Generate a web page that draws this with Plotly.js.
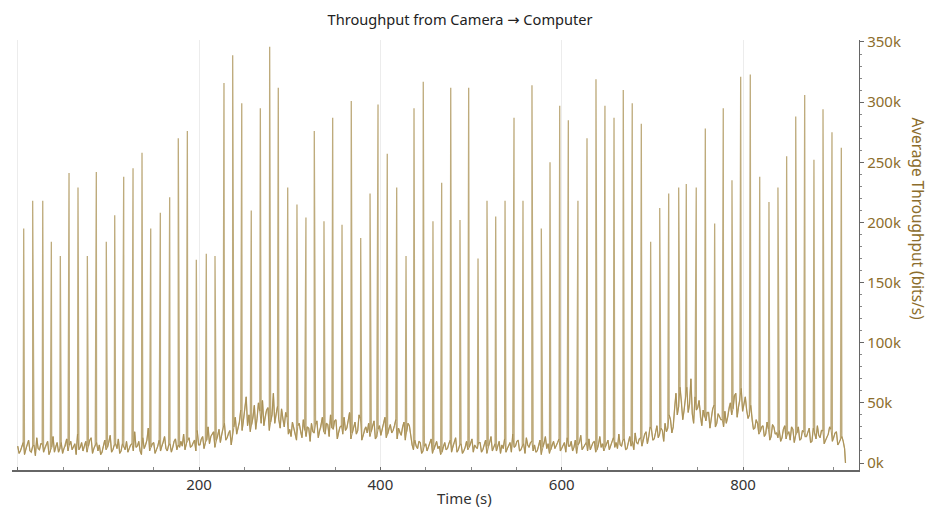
<!DOCTYPE html>
<html>
<head>
<meta charset="utf-8">
<script src="https://cdn.plot.ly/plotly-3.0.1.min.js"></script>
<style>html,body{margin:0;padding:0;background:#fff;}#chart{width:937px;height:513px;}</style>
</head>
<body>
<div id="chart"></div>
<script>
// Spike times (s) and peak throughput (k bits/s)
var spikeTimes = [6.6,16.5,27.6,37.1,47.0,56.6,66.5,76.8,86.7,97.7,107.0,116.9,127.2,137.1,146.7,157.3,167.6,177.1,187.1,197.0,
  208.0,217.6,227.5,237.1,247.1,257.6,267.6,277.9,287.4,297.8,308.0,317.9,327.1,337.8,347.4,357.7,367.9,378.3,388.6,397.4,
  407.6,418.0,428.3,437.1,447.3,458.0,467.6,477.6,487.8,497.4,507.7,517.6,527.2,537.5,547.4,557.3,567.2,577.5,587.1,597.8,
  607.3,617.9,627.9,637.8,647.7,657.7,667.9,677.8,687.8,698.1,708.1,718.0,729.0,737.4,748.4,758.4,768.7,778.2,787.8,797.4,
  808.0,818.4,828.6,838.5,848.1,858.1,868.0,878.2,888.2,898.1,908.4];
var spikePeaks = [195,218,218,184,172,241,229,172,242,184,206,238,245,258,195,208,221,270,276,169,
  174,172,316,339,299,210,295,346,312,229,215,204,276,201,287,198,301,187,224,298,
  257,229,172,295,317,201,233,312,202,312,170,218,205,218,287,218,314,195,250,297,
  285,218,270,319,297,287,310,299,282,184,212,224,229,232,229,278,199,295,235,321,
  323,238,217,229,255,288,306,252,294,275,262];
// Baseline throughput (k bits/s) every 3 s from 0 s to 912 s
var baseStart = 0, baseStep = 3;
var baseline = [
 14,10,17,12,19,9,15,21,11,16,
 13,18,10,22,14,9,17,12,20,15,
 11,16,24,13,10,18,14,21,12,17,
 15,9,19,13,23,11,16,20,10,14,
 18,12,16,26,14,10,21,15,29,13,
 17,11,19,14,22,10,16,13,20,15,
 18,24,16,21,14,19,27,15,22,17,
 30,22,26,19,28,24,33,21,27,25,
 38,29,44,35,55,40,32,48,37,43,
 52,39,46,34,58,41,36,45,30,38,
 28,34,24,31,26,36,22,29,33,25,
 35,27,38,24,32,40,28,36,26,31,
 38,29,42,25,34,27,37,23,30,33,
 26,35,22,31,28,38,24,32,27,36,
 29,23,34,26,31,15,19,12,17,10,
 16,13,20,11,18,14,9,17,12,19,
 14,21,11,16,10,18,13,20,15,12,
 17,11,19,14,22,13,10,18,15,20,
 12,17,24,14,19,11,16,21,13,18,
 15,10,19,13,22,16,11,18,14,20,
 12,17,21,14,10,19,15,23,13,17,
 20,14,18,11,22,16,13,19,15,21,
 17,24,14,20,12,22,18,25,16,21,
 19,26,22,28,20,31,24,27,33,29,
 36,30,58,47,52,44,63,49,41,55,
 46,38,44,35,42,37,48,33,39,36,
 43,38,50,45,58,47,62,51,44,40,
 35,29,33,26,31,24,28,22,30,25,
 27,21,31,24,19,28,23,30,20,26,
 22,29,18,25,31,21,27,19,24,28,
 21,26,17,22,12];
// In-between baseline samples (k bits/s) every 3 s from 1.5 s to 910.5 s
var midStart = 1.5, midStep = 3;
var baselineMid = [
 8,13,7,15,10,14,6,12,16,9,
 15,7,13,9,17,12,8,14,10,18,
 13,7,11,17,14,9,19,8,15,10,
 7,14,11,17,9,15,12,8,16,11,
 9,15,10,13,18,7,12,19,10,16,
 8,14,10,17,12,15,9,18,11,13,
 14,11,19,13,17,10,15,20,12,19,
 16,24,13,22,17,29,19,25,15,30,
 24,34,27,45,31,26,38,28,50,33,
 31,44,27,40,33,47,29,36,42,24,
 22,29,19,33,21,27,30,18,26,32,
 21,30,26,33,22,29,35,20,30,24,
 27,35,20,31,24,40,19,28,25,22,
 31,20,28,23,34,21,29,25,31,20,
 25,30,19,33,22,11,14,18,8,14,
 10,17,8,15,12,7,14,11,16,9,
 17,9,15,8,13,11,16,9,13,17,
 9,15,8,17,10,16,14,8,12,9,
 15,9,13,18,10,14,8,15,17,10,
 9,14,7,16,12,8,15,12,17,10,
 15,9,14,18,13,8,17,11,16,10,
 11,17,9,15,13,10,16,11,18,13,
 12,15,19,11,17,14,11,17,20,14,
 24,16,30,19,25,21,29,18,26,40,
 25,45,40,63,36,55,42,70,33,44,
 52,31,38,42,29,45,30,41,36,30,
 33,46,40,56,38,52,43,55,37,48,
 28,36,24,30,22,34,19,32,24,21,
 18,28,20,26,30,17,25,19,27,22,
 26,17,29,20,23,27,16,22,30,18,
 25,15,20,18];
var endTime = 913, endValue = 0;

var xTickVals = [0,200,400,600,800];
var xTickText = ['','200','400','600','800'];

// Build series
var base = [];
for (var i = 0; i < baseline.length; i++) base.push([baseStart + i * baseStep, baseline[i]]);
for (var m = 0; m < baselineMid.length; m++) base.push([midStart + m * midStep, baselineMid[m]]);
base.push([endTime, endValue]);
var all = base.slice();
for (var j = 0; j < spikeTimes.length; j++) all.push([spikeTimes[j], spikePeaks[j]]);
function byT(a,b){return a[0]-b[0];}
base.sort(byT); all.sort(byT);
var bx = base.map(function(p){return p[0];}), by = base.map(function(p){return p[1];});
var sx = all.map(function(p){return p[0];}), sy = all.map(function(p){return p[1];});

var gold = '#8c6d2c';
var traces = [
  {x: sx, y: sy, type: 'scatter', mode: 'lines', yaxis: 'y2',
   line: {color: 'rgb(190,171,124)', width: 1.3}, hoverinfo: 'skip', showlegend: false},
  {x: bx, y: by, type: 'scatter', mode: 'lines', yaxis: 'y2',
   line: {color: 'rgb(168,142,82)', width: 0.9}, hoverinfo: 'skip', showlegend: false}
];

var font = 'Noto Sans, Open Sans, sans-serif';
var layout = {
  width: 937, height: 513,
  margin: {l: 12, r: 78, t: 40, b: 43, pad: 0},
  paper_bgcolor: '#fff', plot_bgcolor: '#fff',
  font: {family: font, size: 14, color: '#333'},
  showlegend: false,
  title: {text: 'Throughput from Camera <span style="font-family:DejaVu Sans">\u2192</span> Computer',
          font: {family: font, size: 14.6, color: '#222'},
          xref: 'container', x: 0.491, yref: 'container', y: 0.961, xanchor: 'center', yanchor: 'middle'},
  xaxis: {range: [-6.3, 927.9], tickvals: xTickVals, ticktext: xTickText,
          showgrid: true, gridcolor: '#ececec', gridwidth: 1, zeroline: false,
          showline: true, linecolor: '#666', linewidth: 1.5,
          ticks: 'inside', ticklen: 3, tickcolor: '#666',
          minor: {dtick: 50, tick0: 0, ticks: 'inside', ticklen: 3, tickcolor: '#888', showgrid: false},
          tickfont: {family: font, size: 15, color: '#333'}},
  yaxis: {range: [-0.0928, 5.61], dtick: 1, tick0: 0, showticklabels: false,
          showgrid: true, gridcolor: '#ececec', zeroline: false,
          showline: true, linecolor: '#555', linewidth: 1.5,
          ticks: 'outside', ticklen: 4, tickcolor: '#555',
          minor: {dtick: 0.2, ticks: 'outside', ticklen: 2, tickcolor: '#777', showgrid: false}},
  yaxis2: {overlaying: 'y', side: 'right', range: [-5.82, 351.65], dtick: 50, tick0: 0, ticksuffix: 'k',
           showgrid: false, zeroline: false, showline: true, linecolor: '#666', linewidth: 1.2,
           ticks: 'outside', ticklen: 4, tickcolor: '#666',
           minor: {dtick: 10, ticks: 'outside', ticklen: 2, tickcolor: '#888'},
           tickfont: {family: font, size: 15, color: gold}},
  annotations: [
    {text: 'Average Throughput (bits/s)', xref: 'paper', yref: 'paper', x: 1.0697, y: 0.585,
     textangle: 90, showarrow: false, xanchor: 'center', yanchor: 'middle',
     font: {family: font, size: 15.4, color: gold}},
    {text: 'Time (s)', xref: 'paper', yref: 'paper', x: 0.534, y: -0.065,
     showarrow: false, xanchor: 'center', yanchor: 'middle',
     font: {family: font, size: 15, color: '#333'}}
  ]
};
Plotly.newPlot('chart', traces, layout, {staticPlot: true, displayModeBar: false});
</script>
</body>
</html>
